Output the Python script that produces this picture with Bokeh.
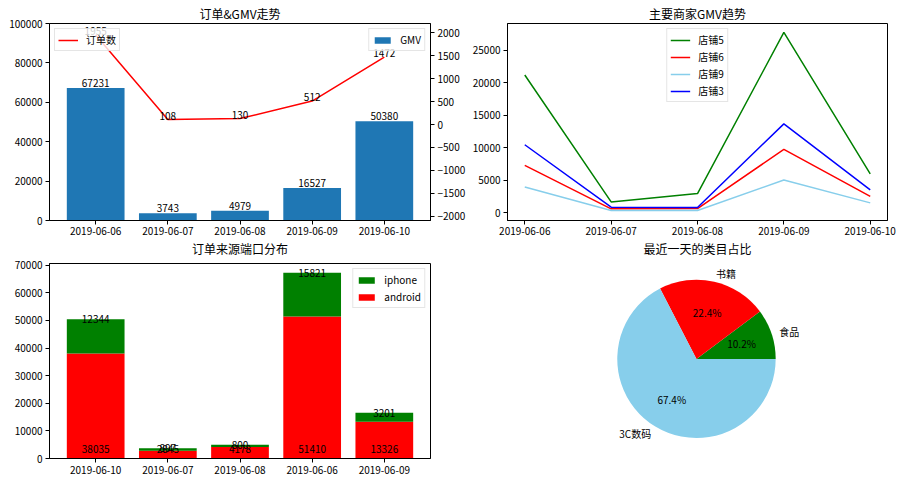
import numpy as np
from bokeh.plotting import figure
from bokeh.models import Range1d, LinearAxis, FixedTicker, Legend, LegendItem, BasicTickFormatter, Title
from bokeh.layouts import column, row
from bokeh.embed import file_html
from bokeh.resources import INLINE
from bokeh.core.properties import value

FONT = "Noto Sans CJK SC"

# ---------------- data ----------------
dates = ["2019-06-06", "2019-06-07", "2019-06-08", "2019-06-09", "2019-06-10"]
gmv = [67231, 3743, 4979, 16527, 50380]
orders = [1955, 108, 130, 512, 1472]

shop_names = ["店铺5", "店铺6", "店铺9", "店铺3"]
shop5 = [21170, 1680, 2950, 27710, 5970]
shop6 = [7290, 610, 650, 9740, 2540]
shop9 = [3980, 350, 350, 5050, 1530]
shop3 = [10460, 860, 830, 13670, 3520]

src_dates = ["2019-06-10", "2019-06-07", "2019-06-08", "2019-06-06", "2019-06-09"]
android = [38035, 2845, 4178, 51410, 13326]
iphone = [12344, 897, 800, 15821, 3201]

cats = ["食品", "书籍", "3C数码"]
cat_share = [10.2, 22.4, 67.4]

titles = ["订单&GMV走势", "主要商家GMV趋势", "订单来源端口分布", "最近一天的类目占比"]


def minus(v):
    return str(v).replace("-", "\u2212")


def style_title(t, standoff):
    t.text_font = FONT
    t.text_font_size = "12px"
    t.text_font_style = "normal"
    t.text_color = "black"
    t.align = "center"
    t.standoff = standoff


def style(p, xlabels=None, x_standoff=3):
    p.outline_line_color = "black"
    p.outline_line_width = 1
    p.xgrid.visible = False
    p.ygrid.visible = False
    p.background_fill_color = "white"
    p.border_fill_color = "white"
    if p.title is not None:
        style_title(p.title, 4)
    for ax in p.axis:
        ax.axis_line_color = "black"
        ax.major_tick_line_color = "black"
        ax.major_tick_out = 4
        ax.major_tick_in = 0
        ax.minor_tick_line_color = None
        ax.major_label_standoff = 3
        ax.major_label_text_font = FONT
        ax.major_label_text_font_size = "10px"
        ax.major_label_text_color = "black"
    for ax in p.xaxis:
        ax.major_label_standoff = x_standoff
    for ax in p.yaxis:
        ax.formatter = BasicTickFormatter(use_scientific=False)
    if xlabels is not None:
        p.xaxis.ticker = FixedTicker(ticks=list(range(len(xlabels))))
        p.xaxis.major_label_overrides = {i: s for i, s in enumerate(xlabels)}


def legend_style(lg):
    lg.label_text_font = FONT
    lg.label_text_font_size = "10px"
    lg.label_text_color = "black"
    lg.glyph_width = 20
    lg.glyph_height = 12
    lg.label_height = 12
    lg.label_standoff = 8
    lg.spacing = 2
    lg.padding = 3
    lg.margin = 5
    lg.border_line_color = "#cccccc"
    lg.border_line_width = 1
    lg.background_fill_alpha = 0.8


TOP_H = 256
BOT_H = 484 - TOP_H

# ---------------- chart 1: 订单&GMV走势 ----------------
xs = list(range(len(dates)))
p1 = figure(width=468, height=TOP_H, x_range=Range1d(-0.64, 4.64), y_range=Range1d(0, 100000),
            output_backend="svg", toolbar_location=None, title=titles[0],
            min_border_left=49, min_border_right=38, min_border_top=23, min_border_bottom=TOP_H - 221)
p1.extra_y_ranges = {"orders": Range1d(-2093, 2204)}
p1.add_layout(LinearAxis(y_range_name="orders"), "right")
bars = p1.vbar(x=xs, top=gmv, width=0.8, fill_color="#1f77b4", line_color=None)
ln = p1.line(xs, orders, y_range_name="orders", line_color="red", line_width=1.5)
p1.text(x=xs, y=gmv, text=[str(v) for v in gmv], text_align="center", text_baseline="bottom",
        text_font=value(FONT), text_font_size="10px", text_color="black", y_offset=-1)
p1.text(x=xs, y=orders, text=[str(v) for v in orders], y_range_name="orders",
        text_align="center", text_baseline="bottom",
        text_font=value(FONT), text_font_size="10px", text_color="black")
style(p1, dates, x_standoff=2)
p1.yaxis[0].ticker = FixedTicker(ticks=[0, 20000, 40000, 60000, 80000, 100000])
rt = list(range(-2000, 2001, 500))
p1.yaxis[1].ticker = FixedTicker(ticks=rt)
p1.yaxis[1].major_label_overrides = {t: minus(t) for t in rt}
lg1a = Legend(items=[LegendItem(label="订单数", renderers=[ln])], location="top_left")
lg1b = Legend(items=[LegendItem(label="GMV", renderers=[bars])], location="top_right")
legend_style(lg1a)
legend_style(lg1b)
lg1b.glyph_height = 8
p1.add_layout(lg1a)
p1.add_layout(lg1b)
# the lower-left chart's title sits in the gap under this chart's date axis
t3 = Title(text=titles[2])
style_title(t3, 0)
p1.add_layout(t3, "below")

# ---------------- chart 2: 主要商家GMV趋势 ----------------
p2 = figure(width=436, height=TOP_H, x_range=Range1d(-0.2, 4.2), y_range=Range1d(-1180, 29087),
            output_backend="svg", toolbar_location=None, title=titles[1],
            min_border_left=39, min_border_right=17, min_border_top=23, min_border_bottom=TOP_H - 221)
shop_vals = [shop5, shop6, shop9, shop3]
shop_colors = ["green", "red", "skyblue", "blue"]
items = []
for name, vals, c in zip(shop_names, shop_vals, shop_colors):
    r = p2.line(xs, vals, line_color=c, line_width=1.5)
    items.append(LegendItem(label=name, renderers=[r]))
style(p2, dates, x_standoff=2)
p2.yaxis.ticker = FixedTicker(ticks=[0, 5000, 10000, 15000, 20000, 25000])
lg2 = Legend(items=items, location="top_center")
legend_style(lg2)
p2.add_layout(lg2)
t4 = Title(text=titles[3])
style_title(t4, 0)
p2.add_layout(t4, "below")

# ---------------- chart 3: 订单来源端口分布 ----------------
totals = [a + b for a, b in zip(android, iphone)]
p3 = figure(width=452, height=BOT_H, x_range=Range1d(-0.64, 4.64), y_range=Range1d(0, 70600),
            output_backend="svg", toolbar_location=None,
            min_border_left=49, min_border_right=22, min_border_top=263 - TOP_H, min_border_bottom=26)
xs3 = list(range(len(src_dates)))
rb_a = p3.vbar(x=xs3, bottom=0, top=android, width=0.8, fill_color="red", line_color=None)
rb_i = p3.vbar(x=xs3, bottom=android, top=totals, width=0.8, fill_color="green", line_color=None)
p3.text(x=xs3, y=totals, text=[str(v) for v in iphone], text_align="center",
        text_baseline="alphabetic", text_font=value(FONT), text_font_size="10px", text_color="black")
p3.text(x=xs3, y=[2000] * len(xs3), text=[str(v) for v in android], text_align="center",
        text_baseline="bottom", text_font=value(FONT), text_font_size="10px", text_color="black")
style(p3, src_dates)
p3.yaxis.ticker = FixedTicker(ticks=list(range(0, 70001, 10000)))
lg3 = Legend(items=[LegendItem(label="iphone", renderers=[rb_i]),
                    LegendItem(label="android", renderers=[rb_a])], location="top_right")
legend_style(lg3)
lg3.glyph_height = 8
p3.add_layout(lg3)

# ---------------- chart 4: 最近一天的类目占比 ----------------
p4 = figure(width=452, height=BOT_H, x_range=Range1d(-2.386, 2.412), y_range=Range1d(-1.2576, 1.2045),
            output_backend="svg", toolbar_location=None,
            x_axis_type=None, y_axis_type=None,
            min_border_left=55, min_border_right=17, min_border_top=263 - TOP_H, min_border_bottom=26)
style(p4)
p4.outline_line_color = None
fr = np.array(cat_share) / np.sum(cat_share)
ends = np.cumsum(fr) * 2 * np.pi
starts = np.concatenate([[0.0], ends[:-1]])
mids = (starts + ends) / 2
p4.wedge(x=0, y=0, radius=1, start_angle=starts, end_angle=ends,
         fill_color=["green", "red", "skyblue"], line_color=None)
lx = 1.1 * np.cos(mids)
ly = 1.1 * np.sin(mids)
p4.text(x=lx, y=ly, text=cats, text_align=["left" if v > 0 else "right" for v in lx],
        text_baseline="middle", text_font=value(FONT), text_font_size="10px", text_color="black")
p4.text(x=0.6 * np.cos(mids), y=0.6 * np.sin(mids), text=["%.1f%%" % v for v in cat_share],
        text_align="center", text_baseline="middle", text_font=value(FONT),
        text_font_size="10px", text_color="black")

layout = column(row(p1, p2), row(p3, p4))
open("out.html", "w").write(file_html(layout, INLINE))
